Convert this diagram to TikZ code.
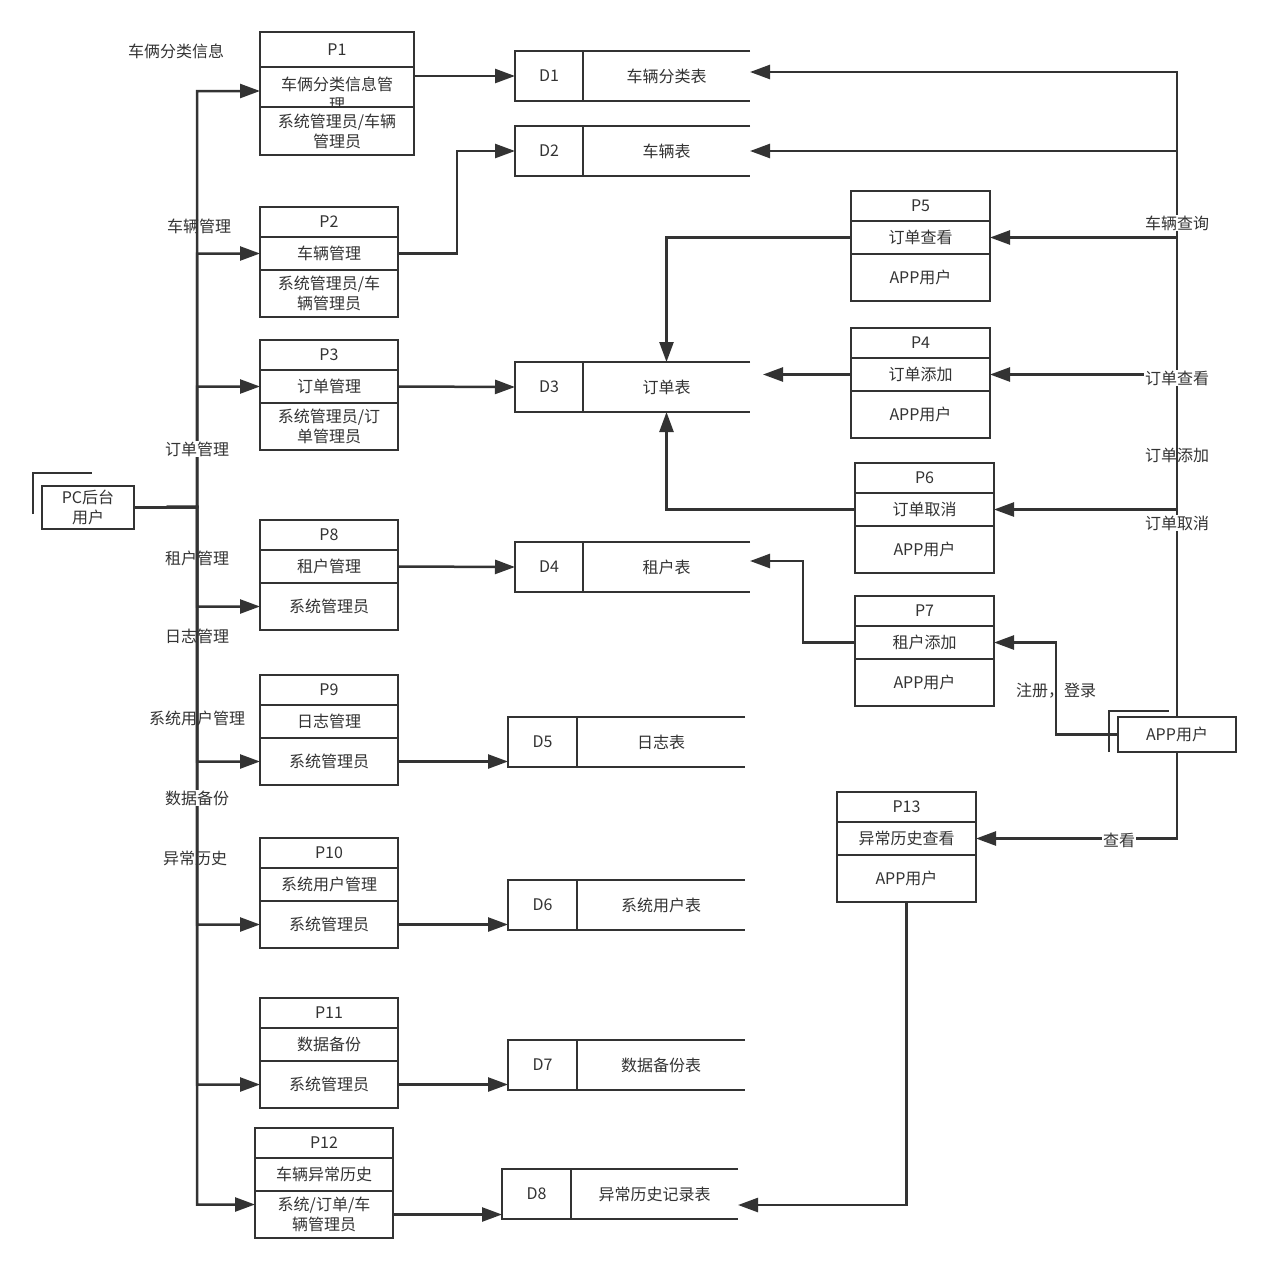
\documentclass[tikz,border=0pt]{standalone}
\usepackage{fontspec}
\setmainfont{Noto Sans CJK SC}
\usetikzlibrary{arrows.meta}
\definecolor{lc}{HTML}{333333}
\newcommand\dfsize{\fontsize{16}{20}\selectfont}
\tikzset{
  box/.style={draw=lc, line width=2.5pt, fill=white, inner sep=0pt, outer sep=0pt, align=center, text=lc, font=\dfsize},
  ln/.style={draw=lc, line width=2.5pt},
  arr/.style={draw=lc, line width=2.5pt, -{Triangle[length=20pt,width=14pt]}},
  lbl/.style={text=lc, font=\dfsize, inner sep=1pt, align=center},
  lblw/.style={lbl, fill=white},
}
\newcommand\proc[7]{%
  \node[box, minimum width=#4, minimum height=30, anchor=north west] (#1h) at (#2,#3) {#5};
  \node[box, minimum width=#4, minimum height=33, anchor=north] (#1m) at (#1h.south) {#6};
  \node[box, minimum width=#4, minimum height=47, anchor=north] (#1b) at (#1m.south) {#7};}
\newcommand\dstore[7]{%
  \node[minimum width=#4, minimum height=50, anchor=north west, inner sep=0pt, outer sep=0pt] (#1) at (#2,#3) {};
  \draw[ln] (#1.north east) -- (#1.north west) -- (#1.south west) -- (#1.south east);
  \draw[ln] ([xshift=#5]#1.north west) -- ([xshift=#5]#1.south west);
  \node[lbl] (#1i) at ([xshift={#5/2}]#1.west) {#6};
  \node[lbl] (#1t) at ([xshift={(#4+#5)/2}]#1.west) {#7};}
\begin{document}
\begin{tikzpicture}[x=1pt,y=-1pt]
\useasboundingbox[fill=white] (0,0) rectangle (1268,1270);

% external entities
\draw[ln] (33,514) -- (33,473) -- (92,473);
\node[box, minimum width=92, minimum height=43, anchor=north west] (pc) at (42,486) {PC后台\\用户};
\draw[ln] (1109,752) -- (1109,711) -- (1169,711);
\node[box, minimum width=118, minimum height=35, anchor=north west] (app) at (1118,717) {APP用户};

% P1
\node[box, minimum width=154, minimum height=35, anchor=north west] (p1h) at (260,32) {P1};
\node[box, minimum width=154, minimum height=40, anchor=north] (p1m) at (p1h.south) {};
\node[lbl, inner sep=0pt] (p1mt) at (337,94) {车俩分类信息管\\理};
\node[box, minimum width=154, minimum height=48, anchor=north] (p1b) at (p1m.south) {系统管理员/车辆\\管理员};

\proc{p2}{260}{207}{138}{P2}{车辆管理}{系统管理员/车\\辆管理员}
\proc{p3}{260}{340}{138}{P3}{订单管理}{系统管理员/订\\单管理员}
\proc{p8}{260}{520}{138}{P8}{租户管理}{系统管理员}
\proc{p9}{260}{675}{138}{P9}{日志管理}{系统管理员}
\proc{p10}{260}{838}{138}{P10}{系统用户管理}{系统管理员}
\proc{p11}{260}{998}{138}{P11}{数据备份}{系统管理员}
\proc{p12}{255}{1128}{138}{P12}{车辆异常历史}{系统/订单/车\\辆管理员}

\proc{p5}{851}{191}{139}{P5}{订单查看}{APP用户}
\proc{p4}{851}{328}{139}{P4}{订单添加}{APP用户}
\proc{p6}{855}{463}{139}{P6}{订单取消}{APP用户}
\proc{p7}{855}{596}{139}{P7}{租户添加}{APP用户}
\proc{p13}{837}{792}{139}{P13}{异常历史查看}{APP用户}

% data stores
\dstore{d1}{515}{51}{235}{68}{D1}{车辆分类表}
\dstore{d2}{515}{126}{235}{68}{D2}{车辆表}
\dstore{d3}{515}{362}{235}{68}{D3}{订单表}
\dstore{d4}{515}{542}{235}{68}{D4}{租户表}
\dstore{d5}{508}{717}{237}{69}{D5}{日志表}
\dstore{d6}{508}{880}{237}{69}{D6}{系统用户表}
\dstore{d7}{508}{1040}{237}{69}{D7}{数据备份表}
\dstore{d8}{502}{1169}{236}{69}{D8}{异常历史记录表}

% left bus
\coordinate (bl) at (197,507);
\draw[arr] (pc.east) -- (bl) |- ([yshift=-4pt]p1m.west);
\draw[arr] (pc.east) -- (bl) |- (p2m.west);
\draw[arr] (pc.east) -- (bl) |- (p3m.west);
\draw[arr] (pc.east) -- (bl) |- (p8b.west);
\draw[arr] (pc.east) -- (bl) |- (p9b.west);
\draw[arr] (pc.east) -- (bl) |- (p10b.west);
\draw[arr] (pc.east) -- (bl) |- (p11b.west);
\draw[arr] (pc.east) -- (bl) |- ([yshift=10pt]p12b.west);

% process -> store
\draw[arr] (d1.west -| p1m.east) -- (d1.west);
\draw[arr] (p2m.east) -- ++(59,0) |- (d2.west);
\draw[arr] (p3m.east) -- (d3.west);
\draw[arr] (p8m.east) -- (d4.west);
\draw[arr] (p9b.east) -- (p9b.east -| d5.west);
\draw[arr] (p10b.east) -- (p10b.east -| d6.west);
\draw[arr] (p11b.east) -- (p11b.east -| d7.west);
\draw[arr] (p12b.east) -- (p12b.east -| d8.west);

% right side
\draw[arr] (app.north) |- ([yshift=4pt]d1.east);
\draw[arr] (app.north) |- (d2.east);
\draw[arr] (app.north) |- (p5m.east);
\draw[arr] (app.north) |- (p4m.east);
\draw[arr] (app.north) |- (p6m.east);
\draw[arr] (app.west) -- ++(-62,0) |- (p7m.east);
\draw[arr] (app.south) |- (p13m.east);
\draw[arr] (p13b.south) |- ([yshift=-11pt]d8.east);
\draw[arr] (p5m.west) -| (d3t |- d3.north);
\draw[arr] (p6m.west) -| (d3t |- d3.south);
\coordinate (d3r) at ([xshift=13pt]d3.east);
\draw[arr] (p4m.west) -- (d3r |- p4m.west);
\draw[arr] (p7m.west) -- ++(-52,0) |- ([yshift=6pt]d4.east);

% labels
\node[lbl] (l1) at (176,51) {车俩分类信息};
\node[lbl] (l2) at (199,226) {车辆管理};
\node[lblw] (l3) at (197,449) {订单管理};
\node[lbl] (l4) at (197,558) {租户管理};
\node[lbl] (l5) at (197,636) {日志管理};
\node[lbl] (l6) at (197,718) {系统用户管理};
\node[lblw] (l7) at (197,798) {数据备份};
\node[lbl] (l8) at (195,858) {异常历史};
\node[lblw] (r1) at (1177,223) {车辆查询};
\node[lblw] (r2) at (1177,378) {订单查看};
\node[lbl] (r3) at (1177,455) {订单添加};
\node[lblw] (r4) at (1177,523) {订单取消};
\node[lbl] (r5) at (1056,691) {注册，登录};
\node[lblw] (r6) at (1119,840) {查看};
\end{tikzpicture}
\end{document}
